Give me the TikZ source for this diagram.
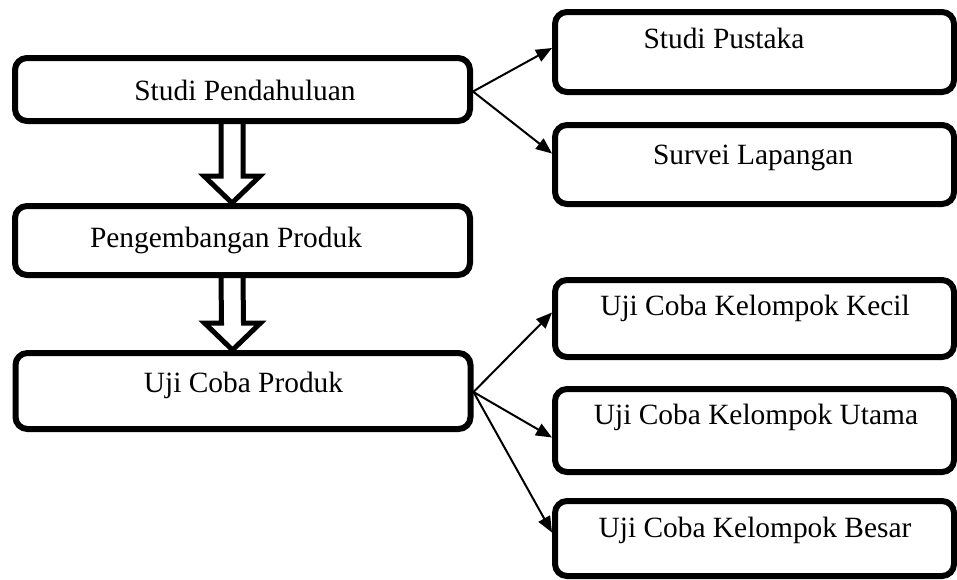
\documentclass[tikz,border=0pt]{standalone}
\usepackage{fontspec}
\setmainfont{Liberation Serif}
\usepackage{tikz}
\usetikzlibrary{arrows.meta}
\usetikzlibrary{calc}
\usetikzlibrary{positioning}

\tikzset{
  box/.style={draw, line width=3pt, rounded corners=6pt, inner sep=0pt},
  lbox/.style={box, minimum width=227.5pt},
  rbox/.style={box, minimum width=199.5pt},
  label/.style={inner sep=0pt, font=\fontsize{14.7}{17}\selectfont},
  link/.style={line width=1pt, -{Triangle[length=8pt, width=6.5pt]}},
  fatline/.style={line width=2.5pt, line join=miter}
}

% hollow block arrow between two stacked boxes
\newcommand\fatarrow[2]{%
  \draw[fatline] ($(#1.south)+(-21.5,0)$) -- ($(#2.north)+(-21.5,-27)$)
    -- ($(#2.north)+(-38.5,-27)$) -- ($(#2.north)+(-10.5,0)$)
    -- ($(#2.north)+(17.5,-27)$) -- ($(#2.north)+(0.5,-27)$)
    -- ($(#1.south)+(0.5,0)$);}

\begin{document}
\begin{tikzpicture}[x=0.5pt, y=-0.5pt]
      \useasboundingbox (0, 0) rectangle (957, 579);

      % left column
      \node[lbox, minimum height=31.5pt] (pend) at (242.5, 89.5) {};
      \node[lbox, minimum height=34.5pt] (peng) at (242.5, 240.5) {};
      \node[lbox, minimum height=38pt] (uji) at (243, 391) {};
      \node[label] (pendtext) at (245, 90) {Studi Pendahuluan};
      \node[label] (pengtext) at (226, 240) {Pengembangan Produk};
      \node[label] (ujitext) at (243.5, 385) {Uji Coba Produk};

      % right column
      \node[rbox, minimum height=40pt] (pust) at (754.5, 52) {};
      \node[rbox, minimum height=39.5pt] (surv) at (754.5, 164.5) {};
      \node[rbox, minimum height=38.5pt] (kecil) at (754.5, 318.5) {};
      \node[rbox, minimum height=41.5pt] (utama) at (754.5, 430.5) {};
      \node[rbox, minimum height=37.5pt] (besar) at (754.5, 538.5) {};
      \node[label] (pusttext) at (724, 38) {Studi Pustaka};
      \node[label] (survtext) at (753, 158) {Survei Lapangan};
      \node[label] (keciltext) at (755, 308) {Uji Coba Kelompok Kecil};
      \node[label] (utamatext) at (756, 417) {Uji Coba Kelompok Utama};
      \node[label] (besartext) at (755, 530) {Uji Coba Kelompok Besar};

      \fatarrow{pend}{peng}
      \fatarrow{peng}{uji}

      \draw[link] ([yshift=-1pt]pend.east) -- ([yshift=2pt]pust.west);
      \draw[link] ([yshift=-1pt]pend.east) -- ([yshift=5.5pt]surv.west);
      \draw[link] ([yshift=-0.5pt]uji.east) -- ([yshift=3pt]kecil.west);
      \draw[link] ([yshift=-0.5pt]uji.east) -- ([yshift=-3.5pt]utama.west);
      \draw[link] ([yshift=-0.5pt]uji.east) -- ([yshift=3pt]besar.west);
    \end{tikzpicture}
\end{document}
